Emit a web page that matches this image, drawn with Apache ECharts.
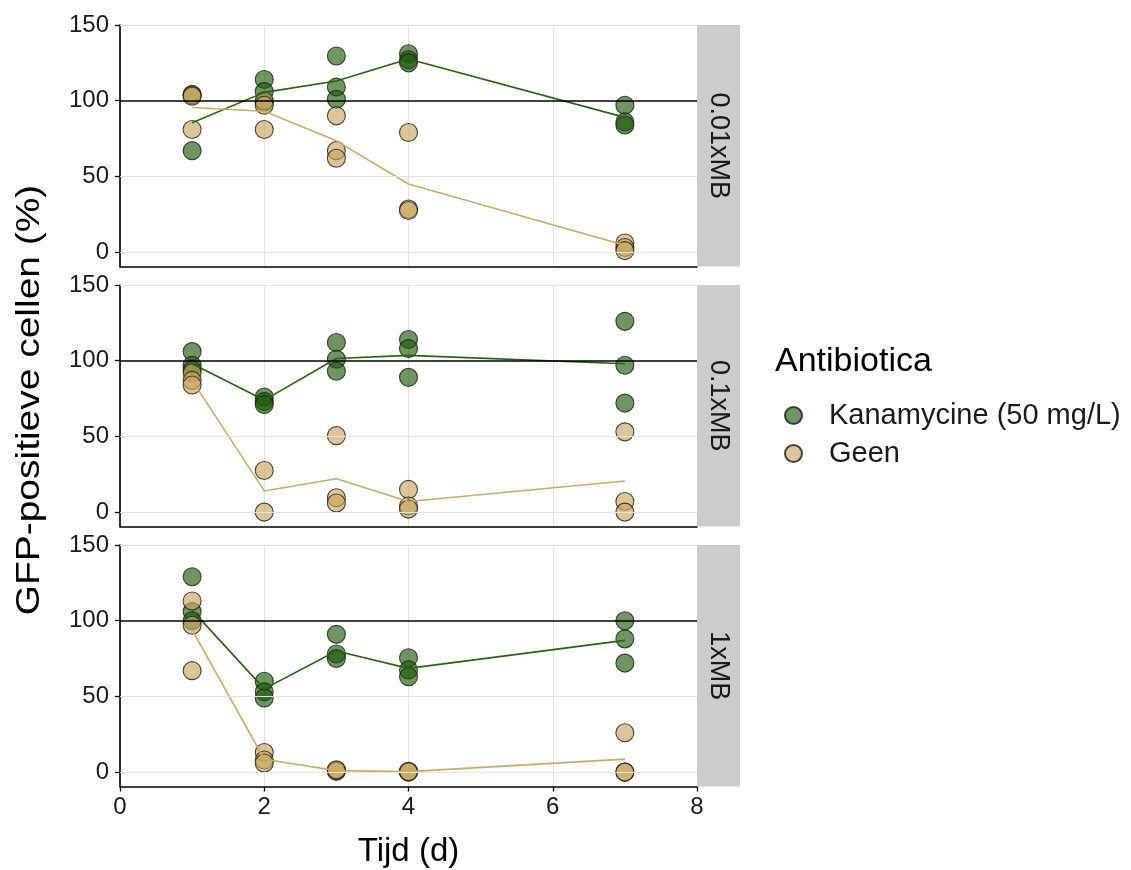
<!DOCTYPE html>
<html>
<head>
<meta charset="utf-8">
<script src="https://cdn.jsdelivr.net/npm/echarts@6/dist/echarts.min.js"></script>
<style>
  html, body { margin: 0; padding: 0; background: #fff; }
  #main { width: 1131px; height: 870px; }
</style>
</head>
<body>
<div id="main"></div>
<script>
// facetten (medium verdunning)
var panels = ['0.01xMB', '0.1xMB', '1xMB'];
var days = [1, 2, 3, 4, 7];

// losse metingen [dag, %]
var kan_001 = [[1,67],[1,104],[2,114],[2,106],[2,99],[3,129.5],[3,109],[3,101],[4,131],[4,127],[4,125],[7,97],[7,86],[7,84]];
var geen_001 = [[1,104],[1,103],[1,81],[2,100],[2,97],[2,81],[3,90],[3,67],[3,62],[4,79],[4,28.5],[4,27.5],[7,6],[7,3],[7,1]];
var kan_01 = [[1,106],[1,97],[1,94],[2,76],[2,73],[2,71],[3,112],[3,101],[3,93],[4,114],[4,108],[4,89],[7,126],[7,97],[7,72]];
var geen_01 = [[1,92],[1,87],[1,84],[2,27.5],[2,0],[3,50.5],[3,9.5],[3,6],[4,15],[4,4],[4,2],[7,53],[7,7],[7,0]];
var kan_1 = [[1,129],[1,106],[1,100],[2,60],[2,53],[2,49],[3,91],[3,78],[3,75],[4,75.5],[4,67.5],[4,63],[7,100],[7,88],[7,72]];
var geen_1 = [[1,113],[1,97],[1,67],[2,13],[2,8],[2,6],[3,1],[3,0.5],[3,1.5],[4,0],[4,0.5],[4,0.2],[7,26],[7,0],[7,0]];

// gemiddelden per dag (lijnen)
var kan_001_mean = [85.5, 105.5, 113, 127.5, 89];
var geen_001_mean = [95.5, 93, 73.5, 45, 4.5];
var kan_01_mean = [98, 74, 101.5, 103.5, 98];
var geen_01_mean = [87, 14, 22, 7, 20.5];
var kan_1_mean = [107, 55, 80, 68.5, 87];
var geen_1_mean = [94, 8.5, 1, 0.3, 8.6];

var yTicks = [0, 50, 100, 150];
var yGrid = [0, 50, 150];
var refLine = 100;

var kanPts = [kan_001, kan_01, kan_1];
var geenPts = [geen_001, geen_01, geen_1];
var kanMean = [kan_001_mean, kan_01_mean, kan_1_mean];
var geenMean = [geen_001_mean, geen_01_mean, geen_1_mean];

var KAN = 'Kanamycine (50 mg/L)';
var GEEN = 'Geen';
var kanFill = 'rgba(29,89,10,0.8)';
var geenFill = 'rgba(200,166,95,0.8)';
var kanLine = 'rgb(38,100,14)';
var geenLine = 'rgb(204,170,104)';
var font = 'Liberation Sans';

var gridLeft = 120, gridWidth = 577, gridH = 241.5;
var gridTops = [25, 285, 545];
var stripW = 43;

function zip(xs, ys){
    return xs.map(function(x, i){ return [x, ys[i]]; });
}

var grids = [], xAxes = [], yAxes = [], series = [], graphics = [];

panels.forEach(function(name, i){
    var last = (i === panels.length - 1);
    grids.push({left: gridLeft, top: gridTops[i], width: gridWidth, height: gridH});
    xAxes.push({
        type: 'value', gridIndex: i, min: 0, max: 8, interval: 2,
        axisLine: {show: true, onZero: false, lineStyle: {color: '#000', width: 1.6}},
        axisTick: {show: last, length: 5, lineStyle: {color: '#000', width: 1.3}},
        axisLabel: {show: last, fontSize: 24, color: '#1a1a1a', fontFamily: font, margin: 9},
        splitLine: {show: true, lineStyle: {color: '#e3e3e3', width: 1}},
        name: last ? 'Tijd (d)' : '',
        nameLocation: 'middle', nameGap: 49,
        nameTextStyle: {fontSize: 33, color: '#000', fontFamily: font}
    });
    yAxes.push({
        type: 'value', gridIndex: i, min: -9.5, max: 150,
        axisLine: {show: true, lineStyle: {color: '#000', width: 1.6}},
        axisTick: {show: true, length: 5, customValues: yTicks, lineStyle: {color: '#000', width: 1.3}},
        axisLabel: {customValues: yTicks, fontSize: 24, color: '#1a1a1a', fontFamily: font, margin: 11},
        splitLine: {show: false}
    });

    // rasterlijnen + referentielijn op 100%
    series.push({
        type: 'line', xAxisIndex: i, yAxisIndex: i, data: [], z: 1, silent: true,
        markLine: {
            silent: true, symbol: 'none', label: {show: false},
            lineStyle: {color: '#e3e3e3', width: 1, type: 'solid'},
            data: yGrid.map(function(v){ return {yAxis: v}; })
        }
    });
    series.push({
        type: 'line', xAxisIndex: i, yAxisIndex: i, data: [], z: 2, silent: true,
        markLine: {
            silent: true, symbol: 'none', label: {show: false},
            lineStyle: {color: '#000', width: 1.5, type: 'solid'},
            data: [{yAxis: refLine}]
        }
    });

    series.push({
        name: KAN, type: 'scatter', xAxisIndex: i, yAxisIndex: i, z: 3,
        symbol: 'circle', symbolSize: 18, data: kanPts[i],
        itemStyle: {color: kanFill, borderColor: '#1a1a1a', borderWidth: 1.1}
    });
    series.push({
        name: GEEN, type: 'scatter', xAxisIndex: i, yAxisIndex: i, z: 3,
        symbol: 'circle', symbolSize: 18, data: geenPts[i],
        itemStyle: {color: geenFill, borderColor: '#1a1a1a', borderWidth: 1.1}
    });
    series.push({
        name: KAN + ' gem', type: 'line', xAxisIndex: i, yAxisIndex: i, z: 4,
        showSymbol: false, data: zip(days, kanMean[i]),
        lineStyle: {color: kanLine, width: 1.6}
    });
    series.push({
        name: GEEN + ' gem', type: 'line', xAxisIndex: i, yAxisIndex: i, z: 4,
        showSymbol: false, data: zip(days, geenMean[i]),
        lineStyle: {color: geenLine, width: 1.6}
    });

    // facet strip rechts
    graphics.push({
        type: 'rect', left: gridLeft + gridWidth, top: gridTops[i],
        shape: {width: stripW, height: gridH},
        style: {fill: '#cccccc'}, z: 10
    });
    graphics.push({
        type: 'text', x: gridLeft + gridWidth + stripW / 2, y: gridTops[i] + gridH / 2,
        rotation: -Math.PI / 2,
        style: {text: name, fontSize: 27, fill: '#1a1a1a', fontFamily: font,
                align: 'center', verticalAlign: 'middle'},
        z: 11
    });
});

// y-as titel, iets uitgerekt zoals in het origineel
graphics.push({
    type: 'text', x: 30, y: 400,
    rotation: Math.PI / 2, scaleX: 1.18,
    style: {text: 'GFP-positieve cellen (%)', fontSize: 33, fill: '#000', fontFamily: font,
            align: 'center', verticalAlign: 'middle'},
    z: 11
});
graphics.push({
    type: 'text', x: 775, y: 362,
    style: {text: 'Antibiotica', fontSize: 34, fill: '#000', fontFamily: font,
            align: 'left', verticalAlign: 'middle'},
    z: 11
});

var chart = echarts.init(document.getElementById('main'), null, {renderer: 'canvas'});
chart.setOption({
    animation: false,
    backgroundColor: '#fff',
    grid: grids,
    xAxis: xAxes,
    yAxis: yAxes,
    legend: {
        data: [{name: KAN, icon: 'circle'}, {name: GEEN, icon: 'circle'}],
        orient: 'vertical', left: 779, top: 396,
        itemWidth: 17, itemHeight: 17, itemGap: 9,
        textStyle: {fontSize: 29, color: '#1a1a1a', fontFamily: font, padding: [0, 0, 0, 22]},
        selectedMode: false
    },
    graphic: graphics,
    series: series
});
</script>
</body>
</html>
